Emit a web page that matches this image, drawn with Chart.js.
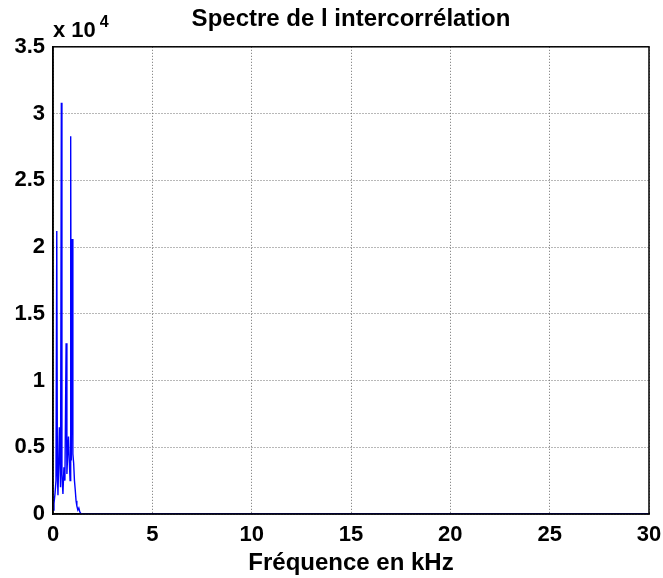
<!DOCTYPE html>
<html>
<head>
<meta charset="utf-8">
<script src="https://cdn.jsdelivr.net/npm/chart.js@4.4.1/dist/chart.umd.min.js"></script>
<style>
  html, body { margin: 0; padding: 0; background: #fff; }
  #wrap { width: 663px; height: 578px; }
</style>
</head>
<body>
<div id="wrap"><canvas id="spectre"></canvas></div>
<script>
// fréquences (kHz) et amplitude du spectre
var freqs = [0.00, 0.05, 0.10, 0.15, 0.19, 0.22, 0.25, 0.28, 0.32, 0.35, 0.38,
             0.42, 0.45, 0.50, 0.55, 0.60, 0.66, 0.70, 0.74, 0.78, 0.82, 0.86,
             0.89, 0.92, 0.97, 1.00, 1.04, 1.08, 1.12, 1.16, 1.20, 1.25, 1.30,
             1.35, 1.40, 1.50, 30.0];
var amps = [300, 800, 1500, 2500, 21200, 3000, 1400, 3500, 6500, 4000, 2000,
            30800, 3000, 1500, 3500, 2500, 12800, 3000, 4500, 5800, 4000, 2500,
            28300, 4000, 20600, 4500, 3800, 2500, 1800, 1000, 600, 300, 450,
            150, 50, 0, 0];

var xTicks = [0, 5, 10, 15, 20, 25, 30];
var yTicks = [0, 0.5, 1, 1.5, 2, 2.5, 3, 3.5]; // x 10^4

var titre = 'Spectre de l intercorrélation';
var xLabel = 'Fréquence en kHz';

var FONT = 'Arial, "Liberation Sans", sans-serif';

// cadre noir autour de la zone de tracé + facteur d'échelle "x 10^4"
var boxPlugin = {
  id: 'boxPlugin',
  afterDraw: function(chart) {
    var a = chart.chartArea, ctx = chart.ctx;
    ctx.save();
    ctx.strokeStyle = '#000';
    ctx.lineWidth = 1.5;
    ctx.strokeRect(a.left, a.top, a.right - a.left, a.bottom - a.top);
    ctx.fillStyle = '#000';
    ctx.textBaseline = 'alphabetic';
    ctx.textAlign = 'left';
    ctx.font = 'bold 22px ' + FONT;
    ctx.fillText('x 10', a.left, a.top - 10);
    var w = ctx.measureText('x 10').width;
    ctx.font = 'bold 16px ' + FONT;
    ctx.fillText('4', a.left + w + 4, a.top - 20);
    ctx.restore();
  }
};

new Chart(document.getElementById('spectre'), {
  type: 'line',
  data: {
    datasets: [{
      data: freqs.map(function(f, i) { return { x: f, y: amps[i] }; }),
      borderColor: '#0000ff',
      borderWidth: 1.4,
      pointRadius: 0,
      tension: 0,
      fill: false
    }]
  },
  options: {
    responsive: true,
    maintainAspectRatio: false,
    animation: false,
    layout: { padding: { left: 0, right: 14, top: 0, bottom: 0 } },
    plugins: {
      legend: { display: false },
      tooltip: { enabled: false },
      title: {
        display: true,
        fullSize: false,
        text: titre,
        color: '#000',
        font: { family: FONT, size: 24, weight: 'bold' },
        padding: { top: 5, bottom: 13 }
      }
    },
    scales: {
      x: {
        type: 'linear',
        min: 0,
        max: 30,
        afterBuildTicks: function(s) { s.ticks = xTicks.map(function(v) { return { value: v }; }); },
        afterFit: function(s) { s.height = 64; s.paddingRight = 0; s.paddingLeft = 0; },
        ticks: {
          color: '#000',
          padding: 8,
          maxRotation: 0,
          font: { family: FONT, size: 22, weight: 'bold' }
        },
        grid: { color: '#707070', drawTicks: false },
        border: { color: '#000', width: 1.5, dash: [1, 2] },
        title: {
          display: true,
          text: xLabel,
          color: '#000',
          font: { family: FONT, size: 24, weight: 'bold' },
          padding: { top: 0, bottom: 0 }
        }
      },
      y: {
        min: 0,
        max: 35000,
        afterBuildTicks: function(s) { s.ticks = yTicks.map(function(v) { return { value: v * 10000 }; }); },
        afterFit: function(s) { s.width = 53; },
        ticks: {
          color: '#000',
          padding: 8,
          font: { family: FONT, size: 22, weight: 'bold' },
          callback: function(v) { return String(v / 10000); }
        },
        grid: { color: '#707070', drawTicks: false },
        border: { color: '#000', width: 1.5, dash: [1, 2] }
      }
    }
  },
  plugins: [boxPlugin]
});
</script>
</body>
</html>
